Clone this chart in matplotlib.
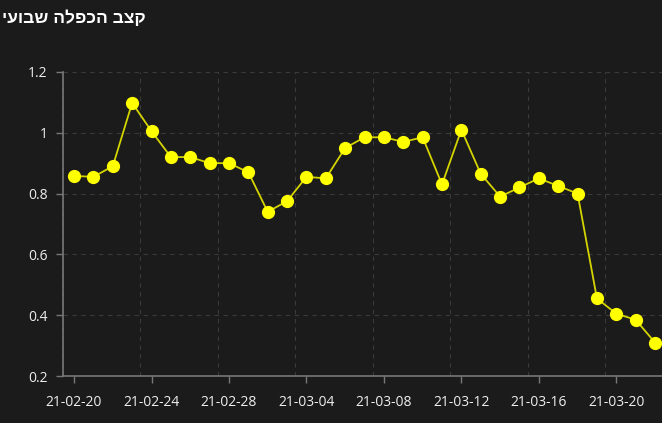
import pandas as pd
import numpy as np
import matplotlib
matplotlib.use("Agg")
import matplotlib.pyplot as plt
import matplotlib.dates as mdates
from matplotlib.ticker import FuncFormatter

# weekly doubling rate, one value per day
title = "קצב הכפלה שבועי"
start_date = "2021-02-20"
ratio = [0.858, 0.855, 0.89, 1.098, 1.005, 0.92, 0.92, 0.90, 0.90, 0.87,
         0.74, 0.775, 0.855, 0.85, 0.95, 0.985, 0.985, 0.97, 0.985, 0.83,
         1.01, 0.865, 0.79, 0.82, 0.85, 0.825, 0.80, 0.455, 0.405, 0.385, 0.31]
y_ticks = [0.2, 0.4, 0.6, 0.8, 1.0, 1.2]

bg = "#1b1b1b"
dates = pd.date_range(start_date, periods=len(ratio), freq="D")

fig = plt.figure(figsize=(6.62, 4.23), dpi=100, facecolor=bg)
ax = fig.add_axes([0.0952, 0.111, 0.9048, 0.719], facecolor=bg)

ax.plot(dates, ratio, color="#d4d400", lw=1.3, zorder=3,
        marker="o", ms=8.5, mfc="#ffff00", mec="#ffff00")

ax.set_ylim(0.2, 1.2)
ax.set_yticks(y_ticks)
ax.yaxis.set_major_formatter(FuncFormatter(lambda v, p: f"{v:g}"))

x0 = mdates.date2num(dates[0])
ax.set_xlim(x0 - 0.52, x0 + 30.36)
ax.set_xticks(dates[::4])
ax.xaxis.set_major_formatter(mdates.DateFormatter("%y-%m-%d"))
# vertical grid sits a bit left of the ticks in the original
ax.set_xticks(mdates.date2num(dates[::4]) - 0.57, minor=True)

ax.grid(which="minor", axis="x", color="#3a3a3a", ls=(0, (4, 4)), lw=0.8)
ax.grid(which="major", axis="y", color="#3a3a3a", ls=(0, (4, 4)), lw=0.8)
ax.tick_params(which="minor", length=0)
ax.tick_params(which="major", colors="#777777", length=5, width=1,
               labelcolor="#eeeeee", labelsize=10)
ax.tick_params(axis="x", pad=9)
ax.tick_params(axis="y", pad=6)
for lab in ax.get_xticklabels() + ax.get_yticklabels():
    lab.set_family("Open Sans")

for s in ["top", "right"]:
    ax.spines[s].set_visible(False)
for s in ["left", "bottom"]:
    ax.spines[s].set_color("#777777")
    ax.spines[s].set_linewidth(1.2)

# hebrew is right-to-left, matplotlib has no bidi so reverse it
fig.text(2 / 662, 1 - 18 / 423, title[::-1], ha="left", va="center",
         color="white", fontsize=12.5, fontweight="bold",
         family=["Liberation Sans", "DejaVu Sans"])

fig.savefig("out.png", dpi=100, facecolor=bg)
